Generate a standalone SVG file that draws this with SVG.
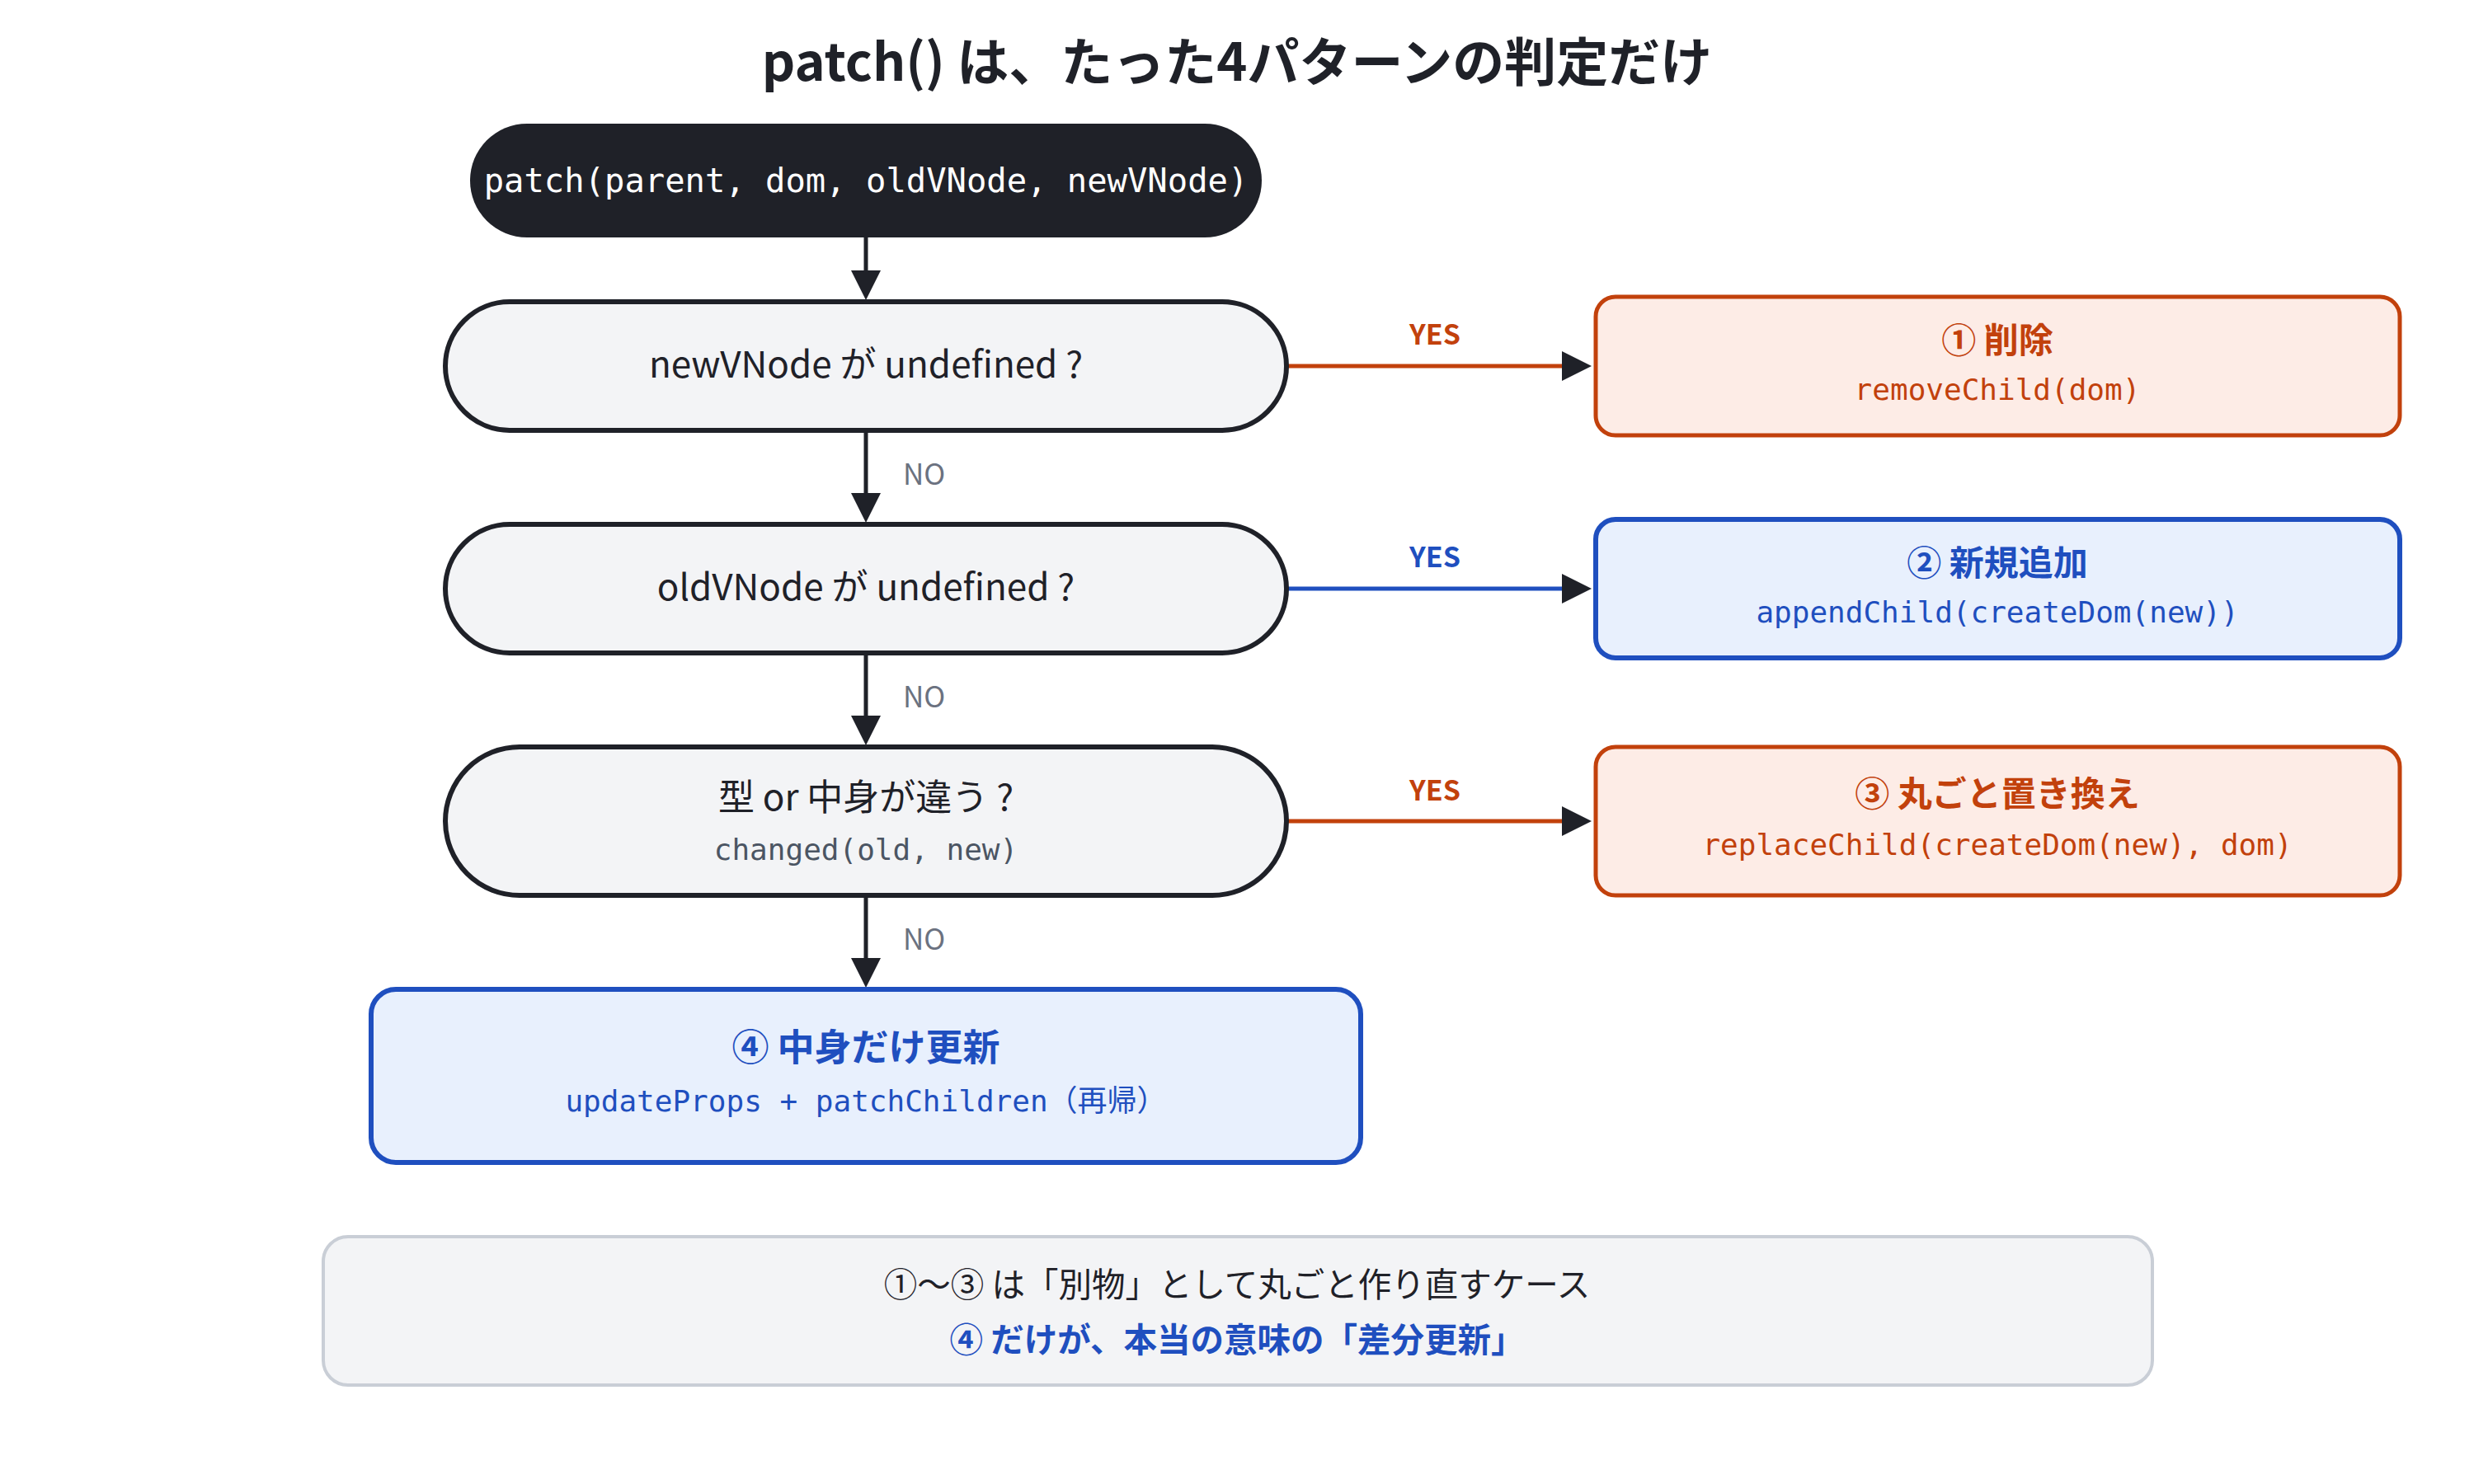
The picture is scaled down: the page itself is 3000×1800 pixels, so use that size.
<svg xmlns="http://www.w3.org/2000/svg" width="3000" height="1800" viewBox="0 0 3000 1800">
<style>
.jp{font-family:"Noto Sans CJK JP","Noto Sans",sans-serif}
.mono{font-family:"DejaVu Sans Mono","Noto Sans CJK JP",monospace}
.b{font-weight:700}
.c{text-anchor:middle}
.dec{fill:#f3f4f6;stroke:#1f2128;stroke-width:6}
.red{fill:#fdece6;stroke:#c2410c;stroke-width:5}
.blue{fill:#e8f0fd;stroke:#1f4fbf;stroke-width:6}
.tr{fill:#c2410c}
.tb{fill:#1f4fbf}
.td{fill:#1f2128}
.no{fill:#6b7280;font-size:35px}
.yes{font-size:34px;font-weight:700;text-anchor:middle}
.ln{stroke-width:5;fill:none}
</style>
<defs>
<marker id="arr" viewBox="0 0 10 10" refX="4.44" refY="5" markerWidth="36" markerHeight="36" markerUnits="userSpaceOnUse" orient="auto"><path d="M0,0 L10,5 L0,10 z" fill="#1f2128"/></marker>
</defs>
<rect width="3000" height="1800" fill="#ffffff"/>
<text x="1500" y="98" class="jp b c td" font-size="63">patch() は、たった4パターンの判定だけ</text>

<g id="connectors">
<line x1="1050" y1="288" x2="1050" y2="344" class="ln" stroke="#1f2128" marker-end="url(#arr)"/>
<line x1="1050" y1="522" x2="1050" y2="614" class="ln" stroke="#1f2128" marker-end="url(#arr)"/>
<line x1="1050" y1="792" x2="1050" y2="884" class="ln" stroke="#1f2128" marker-end="url(#arr)"/>
<line x1="1050" y1="1086" x2="1050" y2="1178" class="ln" stroke="#1f2128" marker-end="url(#arr)"/>
<line x1="1560" y1="444" x2="1910" y2="444" class="ln" stroke="#c2410c" marker-end="url(#arr)"/>
<line x1="1560" y1="714" x2="1910" y2="714" class="ln" stroke="#1f4fbf" marker-end="url(#arr)"/>
<line x1="1560" y1="996" x2="1910" y2="996" class="ln" stroke="#c2410c" marker-end="url(#arr)"/>
<text x="1095" y="588" class="jp no">NO</text>
<text x="1095" y="858" class="jp no">NO</text>
<text x="1095" y="1152" class="jp no">NO</text>
<text x="1740" y="418" class="jp yes tr">YES</text>
<text x="1740" y="688" class="jp yes tb">YES</text>
<text x="1740" y="971" class="jp yes tr">YES</text>
</g>

<g id="start">
<rect x="570" y="150" width="960" height="138" rx="69" fill="#1f2128"/>
<text x="1050" y="233" class="mono c" font-size="40.5" fill="#ffffff">patch(parent, dom, oldVNode, newVNode)</text>
</g>

<g id="dec1">
<rect x="540" y="366" width="1020" height="156" rx="78" class="dec"/>
<text x="1050" y="458" class="jp c td" font-size="44">newVNode が undefined ?</text>
</g>

<g id="dec2">
<rect x="540" y="636" width="1020" height="156" rx="78" class="dec"/>
<text x="1050" y="728" class="jp c td" font-size="44">oldVNode が undefined ?</text>
</g>

<g id="dec3">
<rect x="540" y="906" width="1020" height="180" rx="90" class="dec"/>
<text x="1050" y="983" class="jp c td" font-size="44">型 or 中身が違う ?</text>
<text x="1050" y="1043" class="mono c" font-size="36" fill="#4b5563">changed(old, new)</text>
</g>

<g id="box1">
<rect x="1935" y="360" width="975" height="168" rx="24" class="red"/>
<text x="2422" y="428" class="jp b c tr" font-size="42">① 削除</text>
<text x="2422" y="485" class="mono c tr" font-size="36">removeChild(dom)</text>
</g>

<g id="box2">
<rect x="1935" y="630" width="975" height="168" rx="24" class="blue"/>
<text x="2422" y="698" class="jp b c tb" font-size="42">② 新規追加</text>
<text x="2422" y="755" class="mono c tb" font-size="36">appendChild(createDom(new))</text>
</g>

<g id="box3">
<rect x="1935" y="906" width="975" height="180" rx="24" class="red"/>
<text x="2422" y="978" class="jp b c tr" font-size="42">③ 丸ごと置き換え</text>
<text x="2422" y="1037" class="mono c tr" font-size="36">replaceChild(createDom(new), dom)</text>
</g>

<g id="box4">
<rect x="450" y="1200" width="1200" height="210" rx="30" class="blue"/>
<text x="1050" y="1287" class="jp b c tb" font-size="45">④ 中身だけ更新</text>
<text x="1050" y="1348" class="mono c tb" font-size="36">updateProps + patchChildren（再帰）</text>
</g>

<g id="note">
<rect x="392" y="1500" width="2218" height="180" rx="30" fill="#f3f4f6" stroke="#c9ced6" stroke-width="4"/>
<text x="1500" y="1573" class="jp c td" font-size="40.5">①〜③ は「別物」として丸ごと作り直すケース</text>
<text x="1500" y="1640" class="jp b c tb" font-size="40.5">④ だけが、本当の意味の「差分更新」</text>
</g>
</svg>
